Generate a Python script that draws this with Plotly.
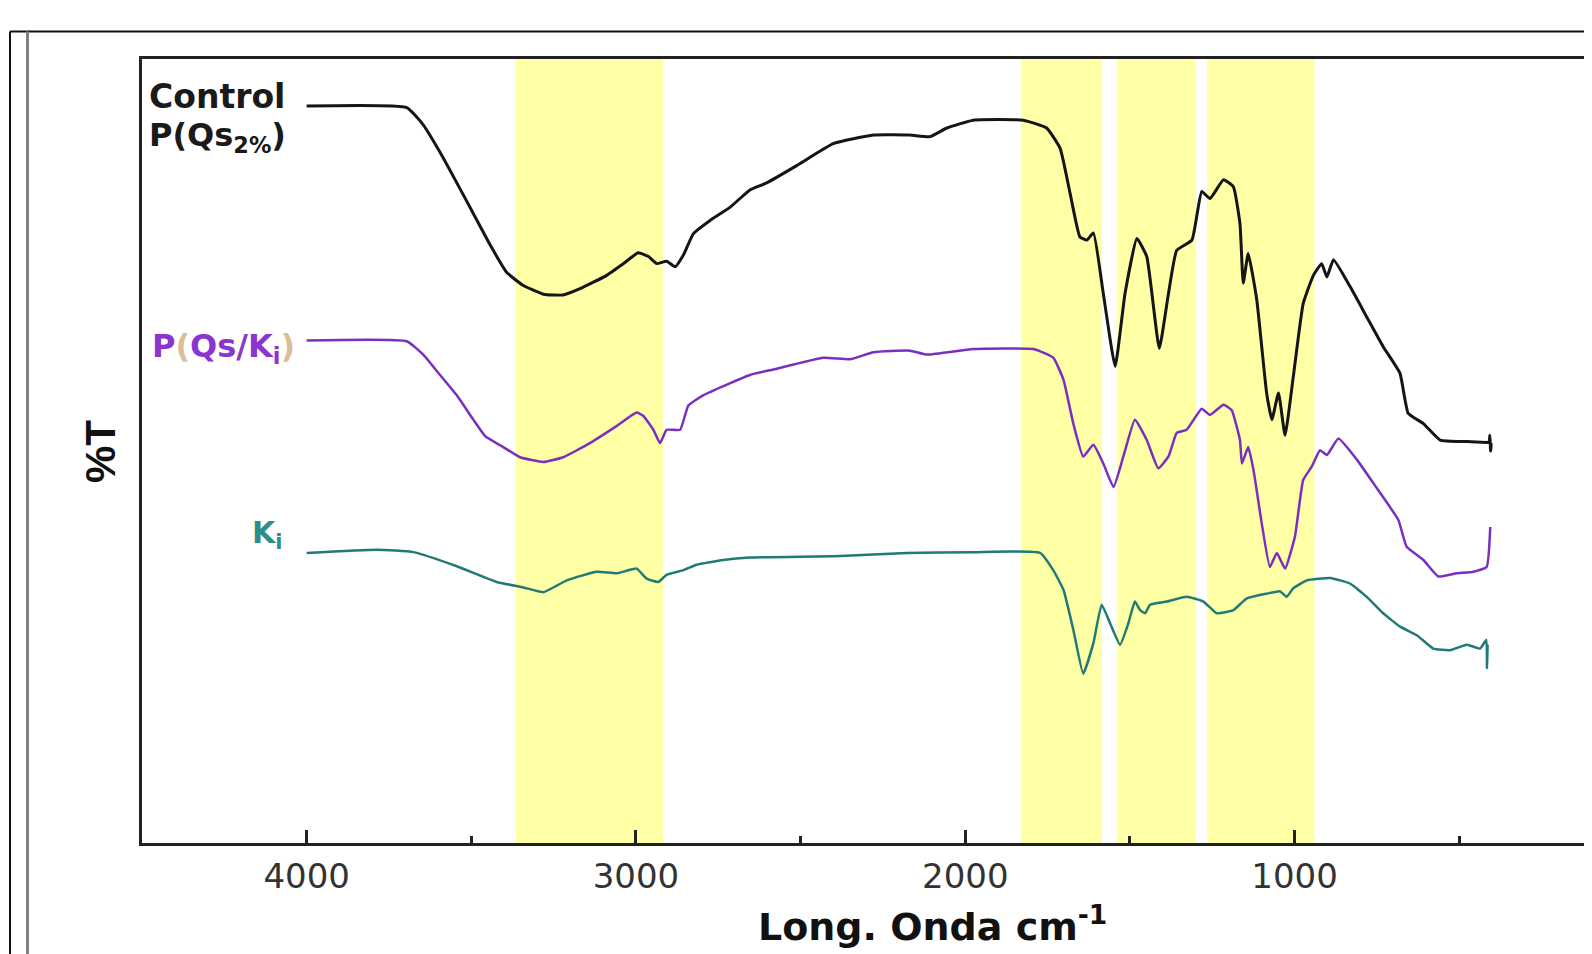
import plotly.graph_objects as go

# ---------------- data ----------------
control_wn = [4000, 3696, 3646, 3595, 3544, 3494, 3443, 3393, 3342, 3281,
              3221, 3170, 3089, 3038, 2993, 2962, 2937, 2907, 2881, 2856,
              2826, 2775, 2714, 2654, 2603, 2512, 2401, 2279, 2168, 2107,
              2056, 1976, 1824, 1753, 1712, 1682, 1652, 1631, 1611, 1581,
              1545, 1515, 1479, 1449, 1411, 1383, 1358, 1312, 1282, 1257,
              1216, 1186, 1166, 1156, 1141, 1115, 1085, 1069, 1049, 1029,
              1004, 974, 943, 918, 902, 882, 832, 781, 731, 680,
              655, 609, 558, 477, 417, 410, 407, 405, 403]
control_t = [94.0, 93.8, 91.6, 88.1, 84.2, 80.3, 76.3, 72.8, 71.1, 70.0,
             69.9, 70.7, 72.4, 73.9, 75.3, 74.8, 73.9, 74.2, 73.5, 75.0,
             77.7, 79.4, 81.1, 83.3, 84.2, 86.4, 89.2, 90.3, 90.3, 90.1,
             91.2, 92.2, 92.2, 91.2, 88.6, 82.9, 77.3, 76.9, 77.8, 70.1,
             60.8, 70.1, 77.1, 74.8, 63.1, 70.1, 75.6, 76.9, 83.1, 82.2,
             84.6, 83.7, 79.0, 71.4, 75.2, 69.3, 57.4, 54.0, 57.4, 52.0,
             59.5, 68.8, 72.4, 73.9, 72.2, 74.4, 71.0, 67.1, 63.3, 59.9,
             54.8, 53.5, 51.4, 51.2, 51.1, 51.1, 52.0, 50.0, 51.0]

pqsk_wn = [4000, 3696, 3646, 3595, 3544, 3494, 3458, 3403, 3352, 3281,
           3221, 3140, 3058, 2998, 2978, 2947, 2927, 2907, 2866, 2841,
           2796, 2654, 2583, 2431, 2350, 2279, 2168, 2117, 1976, 1793,
           1733, 1702, 1672, 1642, 1611, 1581, 1550, 1520, 1485, 1449,
           1414, 1383, 1358, 1328, 1282, 1257, 1216, 1191, 1166, 1160,
           1141, 1125, 1100, 1075, 1054, 1029, 999, 974, 948, 923,
           902, 867, 811, 761, 685, 660, 609, 564, 508, 457,
           417, 406]
pqsk_t = [64.1, 64.0, 62.3, 59.7, 57.1, 54.0, 51.9, 50.5, 49.2, 48.6,
          49.2, 51.0, 53.2, 54.9, 54.5, 52.7, 51.0, 52.7, 52.7, 55.8,
          57.1, 59.7, 60.4, 61.9, 61.7, 62.6, 62.8, 62.3, 63.0, 63.0,
          61.9, 59.1, 53.5, 49.3, 50.8, 48.4, 45.4, 49.3, 54.0, 51.4,
          47.8, 49.3, 52.3, 52.7, 55.4, 54.6, 55.9, 55.2, 51.4, 48.4,
          50.5, 47.6, 40.8, 35.2, 37.0, 35.0, 39.1, 46.3, 48.0, 50.1,
          49.5, 51.6, 48.9, 45.9, 41.2, 37.8, 36.1, 34.0, 34.4, 34.6,
          35.2, 40.3]

ki_wn = [4000, 3787, 3676, 3544, 3423, 3342, 3281, 3210, 3119, 3058,
         2998, 2967, 2932, 2907, 2856, 2816, 2735, 2654, 2380, 2178,
         1976, 1773, 1733, 1702, 1672, 1642, 1611, 1586, 1560, 1530,
         1505, 1485, 1469, 1454, 1439, 1388, 1328, 1277, 1236, 1186,
         1145, 1085, 1044, 1024, 1004, 963, 892, 832, 781, 731,
         680, 629, 579, 528, 477, 437, 418, 416, 414]
ki_t = [37.0, 37.4, 37.1, 35.3, 33.3, 32.6, 32.0, 33.5, 34.6, 34.4,
        35.0, 33.7, 33.3, 34.2, 34.8, 35.5, 36.1, 36.4, 36.6, 37.0,
        37.1, 37.0, 34.8, 32.3, 27.2, 21.6, 25.5, 30.4, 28.0, 25.3,
        28.0, 30.8, 29.7, 29.3, 30.4, 30.8, 31.4, 30.8, 29.3, 29.7,
        31.2, 31.8, 32.1, 31.4, 32.5, 33.5, 33.8, 33.1, 31.4, 29.3,
        27.6, 26.5, 24.8, 24.6, 25.3, 24.8, 25.9, 22.3, 25.3]

# highlighted wavenumber bands (start, end) in cm-1
bands = [(3365, 2918), (1831, 1585), (1540, 1300), (1266, 940)]

x_ticks = [4000, 3000, 2000, 1000]
x_minor = [3500, 2500, 1500, 500]

# ---------------- layout geometry ----------------
OFF = 8                      # default page margin around the plot div
W, H = 1592 - OFF, 954 - OFF
L, R, T, B = 142 - OFF, 0, 59 - OFF, 111
PW, PH = W - L - R, H - T - B


def px(x):
    """page x pixel -> paper coordinate"""
    return (x - OFF - L) / PW


def py(y):
    """page y pixel -> paper coordinate"""
    return (H - B - (y - OFF)) / PH


fig = go.Figure()

common = dict(mode="lines", line_shape="spline", hoverinfo="skip", showlegend=False)
fig.add_trace(go.Scatter(x=control_wn, y=control_t, line=dict(color="#151515", width=3, smoothing=0.4), **common))
fig.add_trace(go.Scatter(x=pqsk_wn, y=pqsk_t, line=dict(color="#7A2FC0", width=2.5, smoothing=0.4), **common))
fig.add_trace(go.Scatter(x=ki_wn, y=ki_t, line=dict(color="#207A76", width=2.5, smoothing=0.4), **common))

shapes = []
for b0, b1 in bands:
    shapes.append(dict(type="rect", xref="x", yref="paper", x0=b0, x1=b1, y0=0, y1=1,
                       fillcolor="#FFFFA6", line=dict(width=0), layer="below"))
# outer frame of the picture
shapes.append(dict(type="line", xref="paper", yref="paper", x0=px(10), x1=1.0, y0=py(31.5), y1=py(31.5),
                   line=dict(color="#111111", width=2)))
shapes.append(dict(type="line", xref="paper", yref="paper", x0=px(10), x1=px(10), y0=py(31.5), y1=py(960),
                   line=dict(color="#111111", width=2)))
shapes.append(dict(type="line", xref="paper", yref="paper", x0=px(27.5), x1=px(27.5), y0=py(31.5), y1=py(960),
                   line=dict(color="#808080", width=3)))

annotations = [
    dict(text="<b>Control</b>", x=px(147), y=py(97), xref="paper", yref="paper", xanchor="left", yanchor="middle",
         showarrow=False, font=dict(family="DejaVu Sans", size=33, color="#1a1a1a")),
    dict(text="<b>P(Qs<sub>2%</sub>)</b>", x=px(147), y=py(137), xref="paper", yref="paper", xanchor="left",
         yanchor="middle", showarrow=False, font=dict(family="DejaVu Sans", size=32, color="#1a1a1a")),
    dict(text="<b><span style='color:#8A35D0'>P</span><span style='color:#D9BF98'>(</span>"
              "<span style='color:#8A35D0'>Qs/K<sub>i</sub></span><span style='color:#D9BF98'>)</span></b>",
         x=px(150), y=py(348), xref="paper", yref="paper", xanchor="left", yanchor="middle",
         showarrow=False, font=dict(family="DejaVu Sans", size=32, color="#8A35D0")),
    dict(text="<b>K<sub>i</sub></b>", x=px(250), y=py(534), xref="paper", yref="paper", xanchor="left",
         yanchor="middle", showarrow=False, font=dict(family="DejaVu Sans", size=30, color="#2E8E8A")),
    dict(text="<b>%T</b>", x=px(101), y=py(452), xref="paper", yref="paper", xanchor="center", yanchor="middle",
         textangle=-90, showarrow=False, font=dict(family="Liberation Sans", size=42, color="#111111")),
    dict(text="<b>Long. Onda cm<sup>-1</sup></b>", x=px(932), y=py(924), xref="paper", yref="paper",
         xanchor="center", yanchor="middle", showarrow=False,
         font=dict(family="DejaVu Sans", size=38, color="#111111")),
]

fig.update_layout(
    width=W, height=H,
    margin=dict(l=L, r=R, t=T, b=B, pad=0),
    paper_bgcolor="white", plot_bgcolor="white",
    shapes=shapes, annotations=annotations,
    xaxis=dict(range=[4500, 97], tickmode="array", tickvals=x_ticks, ticktext=[str(v) for v in x_ticks],
               ticks="inside", ticklen=13, tickwidth=2.5, tickcolor="#222",
               minor=dict(ticks="inside", ticklen=7, tickwidth=2.5, tickcolor="#222",
                          tickvals=x_minor, showgrid=False),
               showline=True, linecolor="#222", linewidth=3, mirror=True,
               showgrid=False, zeroline=False, ticklabelstandoff=1,
               tickfont=dict(family="DejaVu Sans", size=34, color="#333")),
    yaxis=dict(range=[0, 100], showticklabels=False, ticks="", showline=True, linecolor="#222",
               linewidth=3, mirror=False, showgrid=False, zeroline=False),
)

fig.write_html("out.html")
